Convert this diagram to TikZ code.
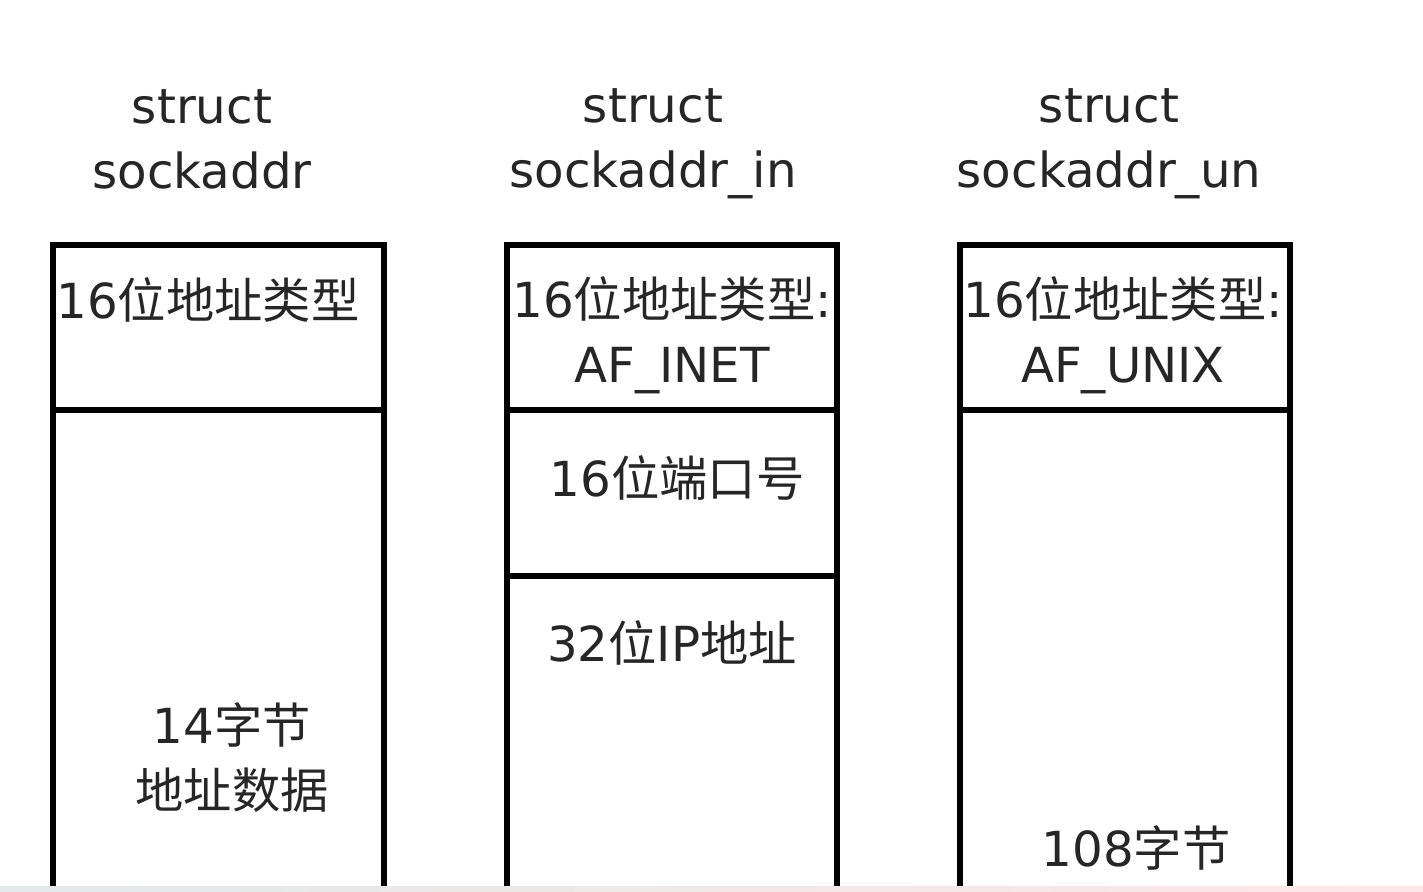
\documentclass[tikz,border=0pt]{standalone}
\usepackage{fontspec}
\setmainfont{DejaVu Sans}
\newfontfamily\cjk{Noto Sans CJK SC}
\usepackage{tikz}

\tikzset{
  boxline/.style={line width=3.4pt, black},
  label/.style={font=\fontsize{27.5}{37}\selectfont, align=center, inner sep=0pt, text=black!85},
}

\begin{document}
\begin{tikzpicture}[x=0.02cm, y=-0.02cm]
            \useasboundingbox (0,0) rectangle (1423,892);
            % screen strip at the bottom
            \shade[left color=cyan!15!gray!20, right color=red!10] (0,886) rectangle (1423,892);
            % the three boxes, open at the bottom
            \draw[boxline] (53,886) -- (53,245) -- (384,245) -- (384,886);
            \draw[boxline] (53,410) -- (384,410);
            \draw[boxline] (507,886) -- (507,245) -- (837,245) -- (837,886);
            \draw[boxline] (507,410) -- (837,410);
            \draw[boxline] (507,576) -- (837,576);
            \draw[boxline] (960,886) -- (960,245) -- (1290,245) -- (1290,886);
            \draw[boxline] (960,410) -- (1290,410);
            % titles
            \node[label] (t1) at (202,139) {struct\\sockaddr};
            \node[label] (t2) at (653,144) {struct\\sockaddr\_in};
            \node[label] (t3) at (1109,144) {struct\\sockaddr\_un};
            % fields
            \node[label] (f1) at (208,300) {16{\cjk 位地址类型}};
            \node[label] (d1) at (232,758) {14{\cjk 字节}\\{\cjk 地址数据}};
            \node[label] (f2) at (672,335) {16{\cjk 位地址类型}:\\AF\_INET};
            \node[label] (p2) at (677,478) {16{\cjk 位端口号}};
            \node[label] (a2) at (672,643) {32{\cjk 位}IP{\cjk 地址}};
            \node[label] (f3) at (1123,335) {16{\cjk 位地址类型}:\\AF\_UNIX};
            \node[label] (d3) at (1136,848) {108{\cjk 字节}};
        \end{tikzpicture}
\end{document}
